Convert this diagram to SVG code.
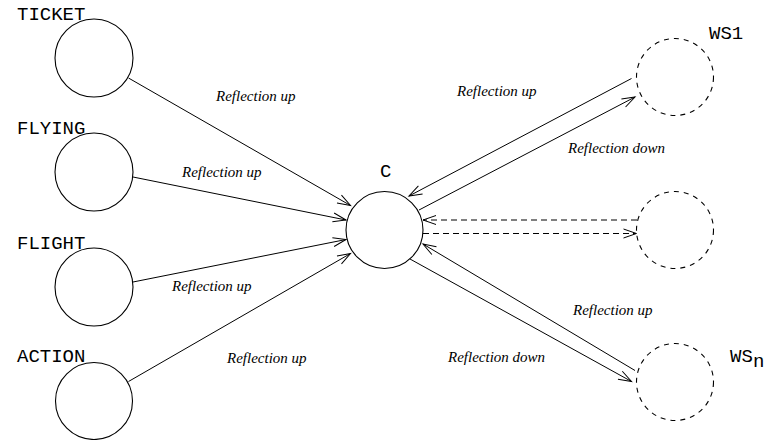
<svg xmlns="http://www.w3.org/2000/svg" width="769" height="440" viewBox="0 0 769 440">
  <style>
    .node { fill: #fff; stroke: #000; stroke-width: 1.1; }
    .ws { fill: #fff; stroke: #000; stroke-width: 1.1; stroke-dasharray: 5 5; }
    .name { font-family: "Liberation Mono", "DejaVu Sans Mono", monospace; font-size: 19px; fill: #000; }
    .edge { fill: none; stroke: #000; stroke-width: 1; marker-end: url(#arrow); }
    .dash { stroke-dasharray: 6 4; }
    .lbl { font-family: "Liberation Serif", "Times New Roman", serif; font-style: italic; font-size: 15px; fill: #000; }
  </style>
  <defs>
    <marker id="arrow" markerUnits="userSpaceOnUse" markerWidth="16" markerHeight="12" viewBox="-14 -6 16 12" refX="0" refY="0" orient="auto">
      <path d="M-13,-4.5 L0,0 L-13,4.5" fill="none" stroke="#000" stroke-width="1"/>
    </marker>
  </defs>
  <rect width="769" height="440" fill="#fff"/>

  <!-- connectors -->
  <g id="connectors">
    <path class="edge" d="M128.5,78 L350.5,205.5"/>
    <path class="edge" d="M133,177 L346,220"/>
    <path class="edge" d="M133,282 L346,239.5"/>
    <path class="edge" d="M128.5,381.5 L350.5,253.5"/>
    <path class="edge" d="M631.5,78.5 L409,196"/>
    <path class="edge" d="M419,210 L635,97"/>
    <path class="edge dash" d="M637,220 L423,220"/>
    <path class="edge dash" d="M423,233.5 L636.5,233.5"/>
    <path class="edge" d="M635,370.5 L423,244"/>
    <path class="edge" d="M410,259 L631.5,381.5"/>
  </g>

  <!-- connector labels -->
  <g id="labels">
    <text class="lbl" x="216" y="101">Reflection up</text>
    <text class="lbl" x="182" y="177">Reflection up</text>
    <text class="lbl" x="172" y="291">Reflection up</text>
    <text class="lbl" x="227" y="363">Reflection up</text>
    <text class="lbl" x="457" y="96">Reflection up</text>
    <text class="lbl" x="568" y="153">Reflection down</text>
    <text class="lbl" x="573" y="315">Reflection up</text>
    <text class="lbl" x="448" y="362">Reflection down</text>
  </g>

  <g id="ticket">
    <circle class="node" cx="94" cy="58" r="39"/>
    <text class="name" x="17" y="20">TICKET</text>
  </g>
  <g id="flying">
    <circle class="node" cx="94" cy="172" r="39"/>
    <text class="name" x="17" y="134">FLYING</text>
  </g>
  <g id="flight">
    <circle class="node" cx="94" cy="287" r="39"/>
    <text class="name" x="17" y="249">FLIGHT</text>
  </g>
  <g id="action">
    <circle class="node" cx="94" cy="401" r="38.5"/>
    <text class="name" x="17" y="362">ACTION</text>
  </g>
  <g id="c">
    <circle class="node" cx="384.5" cy="230" r="38.5"/>
    <text class="name" x="380" y="177">C</text>
  </g>
  <g id="ws1">
    <circle class="ws" cx="675" cy="77" r="38.5"/>
    <text class="name" x="709" y="39">WS1</text>
  </g>
  <g id="ws-mid">
    <circle class="ws" cx="675" cy="230" r="38.5"/>
  </g>
  <g id="wsn">
    <circle class="ws" cx="675" cy="382" r="38.5"/>
    <text class="name" x="730" y="362">WS<tspan x="753" y="367">n</tspan></text>
  </g>
</svg>
